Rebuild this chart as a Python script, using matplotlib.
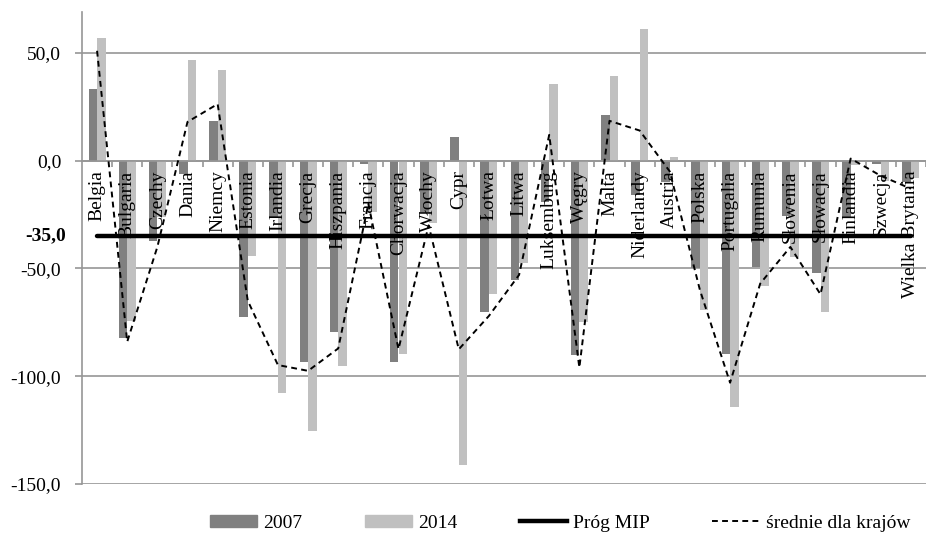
import numpy as np
import matplotlib
matplotlib.use("Agg")
import matplotlib.pyplot as plt
from matplotlib.lines import Line2D
from matplotlib.patches import Patch

plt.rcParams["font.family"] = ["Liberation Serif", "DejaVu Serif"]

countries = ["Belgia", "Bulgaria", "Czechy", "Dania", "Niemcy", "Estonia",
             "Irlandia", "Grecja", "Hiszpania", "Francja", "Chorwacja",
             "Włochy", "Cypr", "Łotwa", "Litwa", "Luksemburg", "Węgry",
             "Malta", "Niderlandy", "Austria", "Polska", "Portugalia",
             "Rumunia", "Słowenia", "Słowacja", "Finlandia", "Szwecja",
             "Wielka Brytania"]

v2007 = [33.3, -82.1, -37.4, -6.2, 18.4, -72.3, -26.0, -93.2, -79.3, -1.5,
         -93.3, -24.0, 11.0, -70.4, -55.5, -19.3, -90.0, 21.2, -15.8, -10.0,
         -49.7, -89.8, -49.2, -25.8, -52.3, -26.3, -1.3, -10.0]

v2014 = [57.0, -74.3, -26.0, 46.7, 42.2, -44.4, -107.8, -125.6, -95.3, -24.0,
         -89.7, -28.7, -141.3, -61.9, -47.4, 35.7, -75.0, 39.4, 60.9, 1.7,
         -69.2, -114.5, -58.0, -44.5, -70.3, -2.0, -9.2, -8.0]

srednie = [51.0, -84.0, -40.0, 18.0, 26.3, -65.0, -94.8, -97.5, -87.1, -20.0,
           -87.4, -30.0, -87.5, -72.0, -53.0, 12.0, -96.0, 18.5, 14.0, -5.0,
           -60.0, -103.0, -57.0, -40.0, -62.0, 1.0, -7.0, -13.0]

prog_mip = -35.0

dark = "#808080"
light = "#c0c0c0"
grid_c = "#969696"

x = np.arange(len(countries))
w = 0.28

fig = plt.figure(figsize=(9.26, 5.42), dpi=100)
ax = fig.add_axes([82 / 926, (542 - 484) / 542, (926 - 82) / 926, 472 / 542])

# slupki 2007 / 2014
ax.bar(x - w / 2, v2007, width=w, color=dark, zorder=2)
ax.bar(x + w / 2, v2014, width=w, color=light, zorder=2)

# prog MIP i srednie
ax.plot(x, [prog_mip] * len(x), color="black", lw=3.2, zorder=4,
        solid_capstyle="round")
ax.plot(x, srednie, color="black", lw=1.4, ls=(0, (3, 2.2)), zorder=5)

ax.set_xlim(-0.5, 27.3)
ax.set_ylim(-150, 69)

ax.set_yticks([50, 0, -50, -100, -150])
ax.set_yticklabels(["50,0", "0,0", "-50,0", "-100,0", "-150,0"], fontsize=14)
ax.yaxis.grid(True, color=grid_c, lw=1.2, zorder=0)
ax.set_axisbelow(True)

ax.spines["top"].set_visible(False)
ax.spines["right"].set_visible(False)
ax.spines["left"].set_color(grid_c)
ax.spines["left"].set_linewidth(1.2)
ax.spines["bottom"].set_position(("data", 0))
ax.spines["bottom"].set_color(grid_c)
ax.spines["bottom"].set_linewidth(1.2)
ax.tick_params(axis="y", color=grid_c, length=5, width=1.2, pad=10)
ax.set_xticks(np.arange(len(countries)) + 0.5)
ax.set_xticklabels([])
ax.tick_params(axis="x", color=grid_c, length=4, width=1.2, direction="out")

for i, name in enumerate(countries):
    ax.annotate(name, (x[i], 0), xytext=(0, -7), textcoords="offset points",
                rotation=90, ha="center", va="top", fontsize=14, zorder=3)

ax.text(-0.5 - 16 / 30.37, prog_mip, "-35,0", ha="right", va="center",
        fontsize=14, fontweight="bold")

handles = [Patch(color=dark), Patch(color=light),
           Line2D([], [], color="black", lw=3.2),
           Line2D([], [], color="black", lw=1.4, ls=(0, (3, 2.2)))]
labels = ["2007", "2014", "Próg MIP", "średnie dla krajów"]
fig.legend(handles, labels, loc="center", bbox_to_anchor=(0.605, 0.035),
           ncol=4, frameon=False, fontsize=14, handlelength=2.4,
           handleheight=0.55, handletextpad=0.35, columnspacing=3.2)

fig.savefig("out.png", dpi=100)
